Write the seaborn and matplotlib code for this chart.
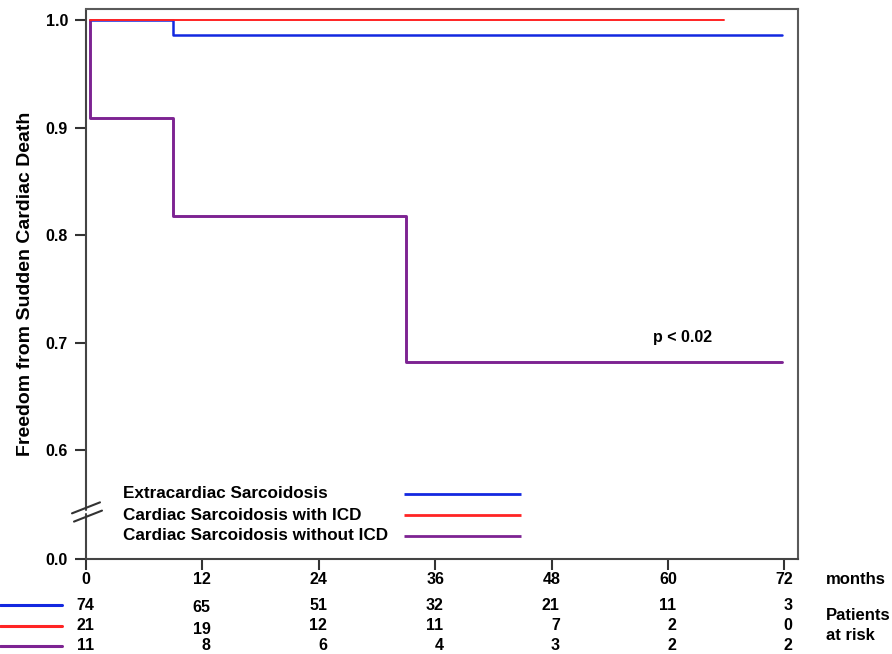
import numpy as np
import pandas as pd
import matplotlib
matplotlib.use("Agg")
import matplotlib.pyplot as plt
import matplotlib.transforms as mtransforms
import seaborn as sns

# ---- data ----
groups = ["Extracardiac Sarcoidosis", "Cardiac Sarcoidosis with ICD", "Cardiac Sarcoidosis without ICD"]
blue_t = [0.4, 9.0, 71.8]
blue_s = [1.0, 0.986, 0.986]
red_t = [0.4, 65.8]
red_s = [1.0, 1.0]
purple_t = [0.4, 0.4, 9.0, 33.0, 71.8]
purple_s = [1.0, 0.909, 0.818, 0.682, 0.682]

x_ticks = [0, 12, 24, 36, 48, 60, 72]
y_ticks = [0.0, 0.6, 0.7, 0.8, 0.9, 1.0]
y_ticklabels = ["0.0", "0.6", "0.7", "0.8", "0.9", "1.0"]
risk_blue = [74, 65, 51, 32, 21, 11, 3]
risk_red = [21, 19, 12, 11, 7, 2, 0]
risk_purple = [11, 8, 6, 4, 3, 2, 2]
p_text = "p < 0.02"

colors = {groups[0]: "#1328e0", groups[1]: "#ff2424", groups[2]: "#7d2392"}
widths = {groups[0]: 1.8, groups[1]: 1.4, groups[2]: 2.1}

df = pd.concat([
    pd.DataFrame({"time": blue_t, "surv": blue_s, "group": groups[0]}),
    pd.DataFrame({"time": red_t, "surv": red_s, "group": groups[1]}),
    pd.DataFrame({"time": purple_t, "surv": purple_s, "group": groups[2]}),
], ignore_index=True)

sns.set_theme(style="white")
plt.rcParams["font.family"] = ["Liberation Sans", "DejaVu Sans"]
plt.rcParams["font.weight"] = "bold"
plt.rcParams["text.color"] = "black"
plt.rcParams["axes.labelcolor"] = "black"
plt.rcParams["xtick.color"] = "black"
plt.rcParams["ytick.color"] = "black"

fig = plt.figure(figsize=(8.92, 6.54), dpi=100)
ax = fig.add_axes([86 / 892, 1 - 559 / 654, (798 - 86) / 892, (559 - 9) / 654])

# broken y scale: everything below 0.5 compressed
def fwd(y):
    y = np.asarray(y, float)
    return np.where(y >= 0.5, y, 0.5 + (y - 0.5) * 0.002)

def inv(m):
    m = np.asarray(m, float)
    return np.where(m >= 0.5, m, 0.5 + (m - 0.5) / 0.002)

ax.set_yscale("function", functions=(fwd, inv))

for g in [groups[0], groups[2], groups[1]]:
    sub = df[df["group"] == g]
    sns.lineplot(data=sub, x="time", y="surv", ax=ax, color=colors[g],
                 drawstyle="steps-post", estimator=None, sort=False,
                 linewidth=widths[g], legend=False)

ax.set_xlim(0, 73.4)
ax.set_ylim(0.0, 1.0102)
ax.set_xticks(x_ticks)
ax.set_xticklabels([str(t) for t in x_ticks], fontsize=11.5, fontweight="bold")
ax.set_yticks(y_ticks)
ax.set_yticklabels(y_ticklabels, fontsize=11.5, fontweight="bold")
ax.set_xlabel("")
ax.set_ylabel("Freedom from Sudden Cardiac Death", fontsize=14, fontweight="bold", labelpad=8)
ax.tick_params(axis="both", direction="out", length=8, width=1.5, color="#333333",
               labelcolor="black", bottom=True, left=True)
ax.tick_params(axis="y", pad=5)
ax.tick_params(axis="x", pad=1.5)
ax.minorticks_off()

for s in ["top", "right"]:
    ax.spines[s].set_color("#5a5a5a")
    ax.spines[s].set_linewidth(1.5)
ax.spines["bottom"].set_color("#444444")
ax.spines["bottom"].set_linewidth(1.5)
ax.spines["left"].set_visible(False)

# left spine with a break
ax.plot([0, 0], [0, 0.082], transform=ax.transAxes, color="#444444", lw=1.5, clip_on=False)
ax.plot([0, 0], [0.090, 1], transform=ax.transAxes, color="#444444", lw=1.5, clip_on=False)
ax.plot([-14 / 712, 14 / 712], [0.083, 0.103], transform=ax.transAxes, color="#333333", lw=1.5, clip_on=False)
ax.plot([-12 / 712, 16 / 712], [0.068, 0.088], transform=ax.transAxes, color="#333333", lw=1.5, clip_on=False)

# p value
ax.text(61.5, 0.705, p_text, ha="center", va="center", fontsize=11.5, fontweight="bold")

# legend drawn manually: text left, line right
leg_y = [(559 - 494) / 550, (559 - 515) / 550, (559 - 536) / 550]
for g, yy in zip(groups, leg_y):
    ax.text((123 - 86) / 712, yy, g, transform=ax.transAxes, ha="left", va="center",
            fontsize=12.3, fontweight="bold")
    ax.plot([(404 - 86) / 712, (521 - 86) / 712], [yy, yy], transform=ax.transAxes,
            color=colors[g], lw=2.0, solid_capstyle="butt")

# risk table
tr = mtransforms.blended_transform_factory(ax.transData, fig.transFigure)
row_y = [605, 626, 646]
for vals, g, ry in zip([risk_blue, risk_red, risk_purple], groups, row_y):
    fig.add_artist(plt.Line2D([0, 62 / 892], [1 - ry / 654] * 2, transform=fig.transFigure,
                              color=colors[g], lw=2.2))
    for t, v in zip(x_ticks, vals):
        off = 3 if (t == 12 and ry != 646) else 0
        ax.text(t + 0.85, 1 - (ry + off) / 654, str(v), transform=tr, ha="right", va="center",
                fontsize=11.5, fontweight="bold", clip_on=False)

fig.text(826 / 892, 1 - 579 / 654, "months", ha="left", va="center", fontsize=12, fontweight="bold")
fig.text(826 / 892, 1 - 615 / 654, "Patients", ha="left", va="center", fontsize=12, fontweight="bold")
fig.text(826 / 892, 1 - 636 / 654, "at risk", ha="left", va="center", fontsize=12, fontweight="bold")

fig.savefig("out.png", dpi=100)
